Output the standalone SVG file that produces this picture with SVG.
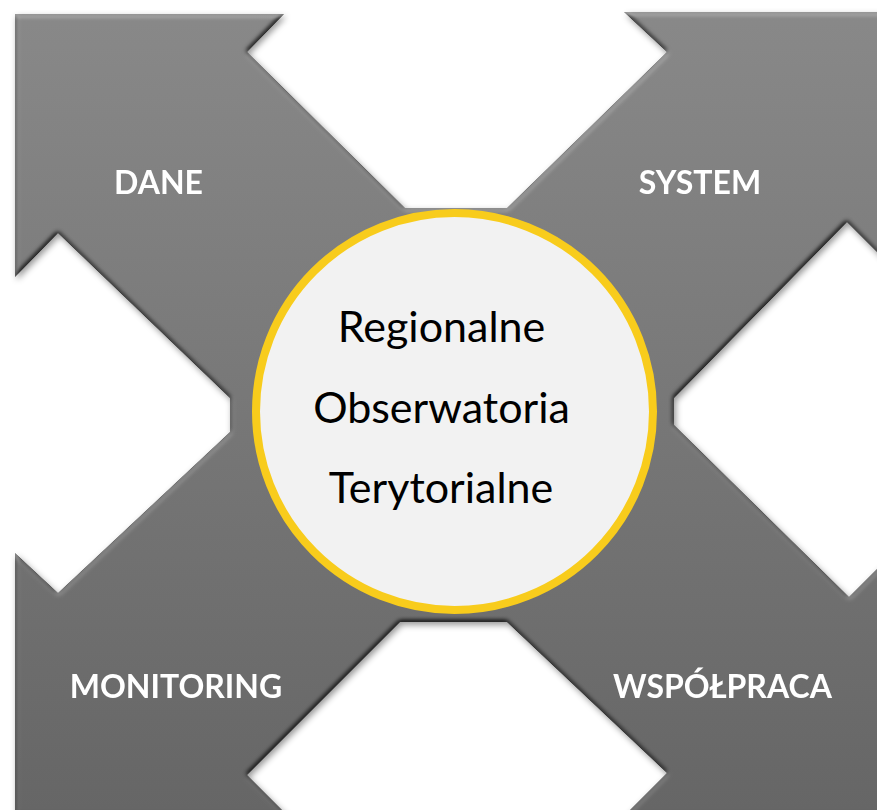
<svg xmlns="http://www.w3.org/2000/svg" width="877" height="810" viewBox="0 0 877 810">
  <defs>
    <linearGradient id="gray" gradientUnits="userSpaceOnUse" x1="0" y1="0" x2="0" y2="810">
      <stop offset="0" stop-color="#898989"/>
      <stop offset="1" stop-color="#666666"/>
    </linearGradient>
    <filter id="bevel" x="-5%" y="-5%" width="110%" height="110%" color-interpolation-filters="sRGB">
      <feGaussianBlur in="SourceAlpha" stdDeviation="2.5" result="blur"/>
      <feDiffuseLighting in="blur" surfaceScale="3" diffuseConstant="1" lighting-color="#ffffff" result="light">
        <feDistantLight azimuth="250" elevation="60"/>
      </feDiffuseLighting>
      <feComposite in="SourceGraphic" in2="light" operator="arithmetic" k1="1.1547" k2="0" k3="0" k4="0" result="lit"/>
      <feGaussianBlur in="SourceAlpha" stdDeviation="3" result="sb"/>
      <feOffset in="sb" dx="2" dy="3" result="so"/>
      <feFlood flood-color="#000000" flood-opacity="0.4"/>
      <feComposite in2="so" operator="in" result="shadow"/>
      <feMerge>
        <feMergeNode in="shadow"/>
        <feMergeNode in="lit"/>
      </feMerge>
    </filter>
  </defs>
  <style>
    .arrow { fill: url(#gray); }
    .label { font-family: Lato, "Open Sans", "Liberation Sans", sans-serif; font-weight: 700; font-size: 32px; fill: #ffffff; text-anchor: middle; }
    .center { font-family: Lato, "Open Sans", "Liberation Sans", sans-serif; font-weight: 400; font-size: 43px; fill: #000000; text-anchor: middle; }
    .disc { fill: #f2f2f2; stroke: #f8cc1c; stroke-width: 8; }
  </style>
  <rect width="877" height="810" fill="#ffffff"/>
  <g id="connectors"/>
  <g id="arrows" filter="url(#bevel)">
    <g id="node-dane">
      <polygon class="arrow" points="15,14 284,14 247,52 405,208 470,208 470,300 454,412 300,420 230,420 230,398 58,233 15,277"/>
      <text class="label" x="158.5" y="194">DANE</text>
    </g>
    <g id="node-system">
      <polygon class="arrow" points="440,208 507,208 667,52 624,12 893,12 893,268 847,222 674,398 674,420 454,420 440,300"/>
      <text class="label" x="700" y="194">SYSTEM</text>
    </g>
    <g id="node-wspolpraca">
      <polygon class="arrow" points="674,404 674,425 849,597 892,554 892,816 624,816 667,773 507,622 440,622 440,520 454,404"/>
      <text class="label" x="722.5" y="698">WSPÓŁPRACA</text>
    </g>
    <g id="node-monitoring">
      <polygon class="arrow" points="470,622 400,622 247,775 288,816 15,816 15,553 58,593 230,432 230,406 300,404 454,404 470,520"/>
      <text class="label" x="176" y="698">MONITORING</text>
    </g>
  </g>
  <g id="node-center">
    <circle class="disc" cx="454.5" cy="411.5" r="198.5"/>
    <text class="center" x="441.5" y="342">Regionalne</text>
    <text class="center" x="441.5" y="423">Obserwatoria</text>
    <text class="center" x="441" y="503">Terytorialne</text>
  </g>
</svg>
